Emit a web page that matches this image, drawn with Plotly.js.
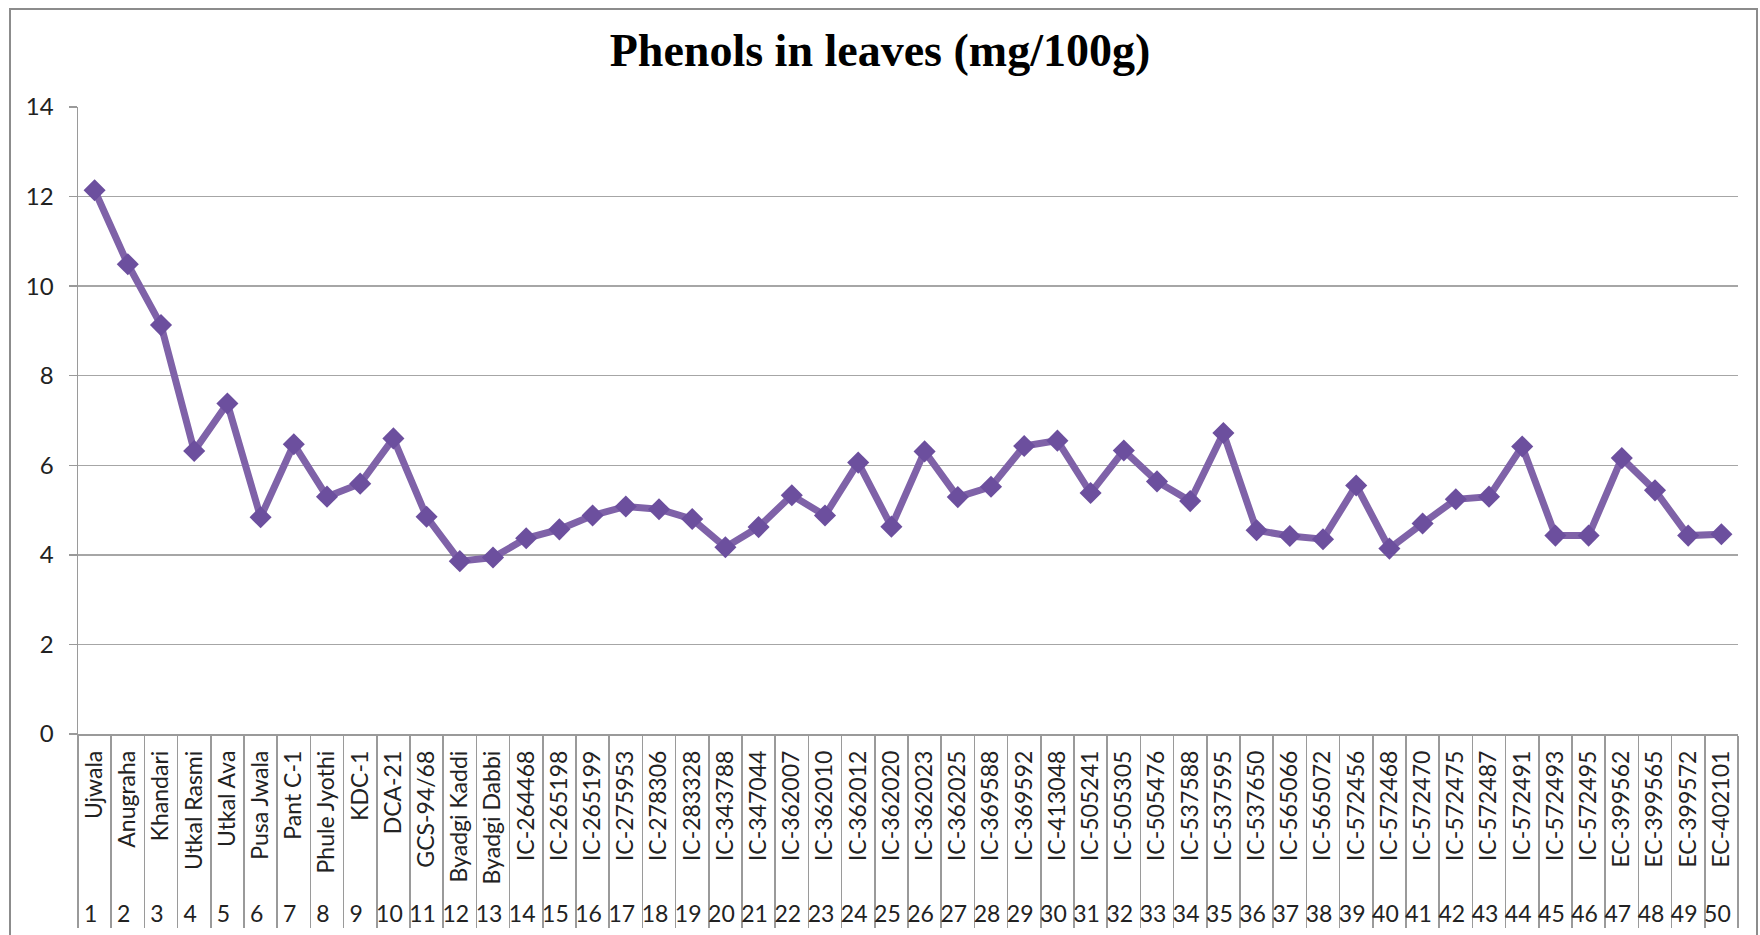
<!DOCTYPE html>
<html>
<head>
<meta charset="utf-8">
<script src="https://cdn.plot.ly/plotly-3.0.1.min.js"></script>
<style>html,body{margin:0;padding:0;background:#fff;}#chart{width:1760px;height:935px;}</style>
</head>
<body>
<div id="chart"></div>
<script>
const serialNumbers = ["1","2","3","4","5","6","7","8","9","10","11","12","13","14","15","16","17","18","19","20","21","22","23","24","25","26","27","28","29","30","31","32","33","34","35","36","37","38","39","40","41","42","43","44","45","46","47","48","49","50"];
const varieties = ["Ujwala","Anugraha","Khandari","Utkal Rasmi","Utkal Ava","Pusa Jwala","Pant C-1","Phule Jyothi","KDC-1","DCA-21","GCS-94/68","Byadgi Kaddi","Byadgi Dabbi","IC-264468","IC-265198","IC-265199","IC-275953","IC-278306","IC-283328","IC-343788","IC-347044","IC-362007","IC-362010","IC-362012","IC-362020","IC-362023","IC-362025","IC-369588","IC-369592","IC-413048","IC-505241","IC-505305","IC-505476","IC-537588","IC-537595","IC-537650","IC-565066","IC-565072","IC-572456","IC-572468","IC-572470","IC-572475","IC-572487","IC-572491","IC-572493","IC-572495","EC-399562","EC-399565","EC-399572","EC-402101"];
const phenols = [12.14,10.49,9.13,6.32,7.38,4.84,6.47,5.30,5.59,6.60,4.85,3.86,3.94,4.37,4.57,4.88,5.08,5.02,4.80,4.17,4.62,5.33,4.88,6.06,4.63,6.31,5.29,5.52,6.43,6.55,5.38,6.33,5.64,5.20,6.72,4.55,4.42,4.35,5.55,4.14,4.70,5.24,5.30,6.42,4.43,4.43,6.16,5.44,4.43,4.46];

const trace = {
  x: [serialNumbers, varieties],
  y: phenols,
  type: 'scatter',
  mode: 'lines+markers',
  line: {color: '#7F62A8', width: 7},
  marker: {symbol: 'diamond', size: 17, color: '#6C4F9E'},
  hoverinfo: 'y'
};

const L = 78, R = 22, T = 107, B = 201;
const W = 1760 - L - R, H = 935 - T - B;

const layout = {
  width: 1760, height: 935,
  margin: {l: L, r: R, t: T, b: B},
  paper_bgcolor: '#fff', plot_bgcolor: '#fff',
  showlegend: false,
  title: {
    text: '<b>Phenols in leaves (mg/100g)</b>',
    font: {family: 'Liberation Serif, Times New Roman, serif', size: 46, color: '#000'},
    x: 0.5, xref: 'container', y: 1 - 50/935, yref: 'container', yanchor: 'middle'
  },
  xaxis: {
    type: 'multicategory',
    range: [-0.5, 49.5],
    tickangle: -90,
    ticks: '',
    ticklabelstandoff: 6,
    showgrid: false,
    showline: true, linecolor: '#9a9a9a', linewidth: 1.5,
    showdividers: true, dividercolor: '#9a9a9a', dividerwidth: 1.5,
    tickfont: {family: 'Lato, Open Sans, sans-serif', size: 23, color: '#222'},
    zeroline: false
  },
  yaxis: {
    range: [0, 14], dtick: 2, tick0: 0,
    showgrid: true, gridcolor: '#a6a6a6', gridwidth: 1.5,
    showline: true, linecolor: '#9a9a9a', linewidth: 1.5,
    ticks: 'outside', ticklen: 8, tickcolor: '#9a9a9a', tickwidth: 1.5,
    ticklabelstandoff: 10,
    tickfont: {family: 'Lato, Open Sans, sans-serif', size: 24, color: '#222'},
    zeroline: false
  },
  shapes: [{
    type: 'rect', xref: 'paper', yref: 'paper',
    x0: (10-L)/W, x1: (1757-L)/W,
    y0: -(945-(935-B))/H, y1: ((935-B)-9)/H,
    line: {color: '#8c8c8c', width: 2}, fillcolor: 'rgba(0,0,0,0)', layer: 'below'
  }]
};

Plotly.newPlot('chart', [trace], layout, {displayModeBar: false, staticPlot: true});
</script>
</body>
</html>
